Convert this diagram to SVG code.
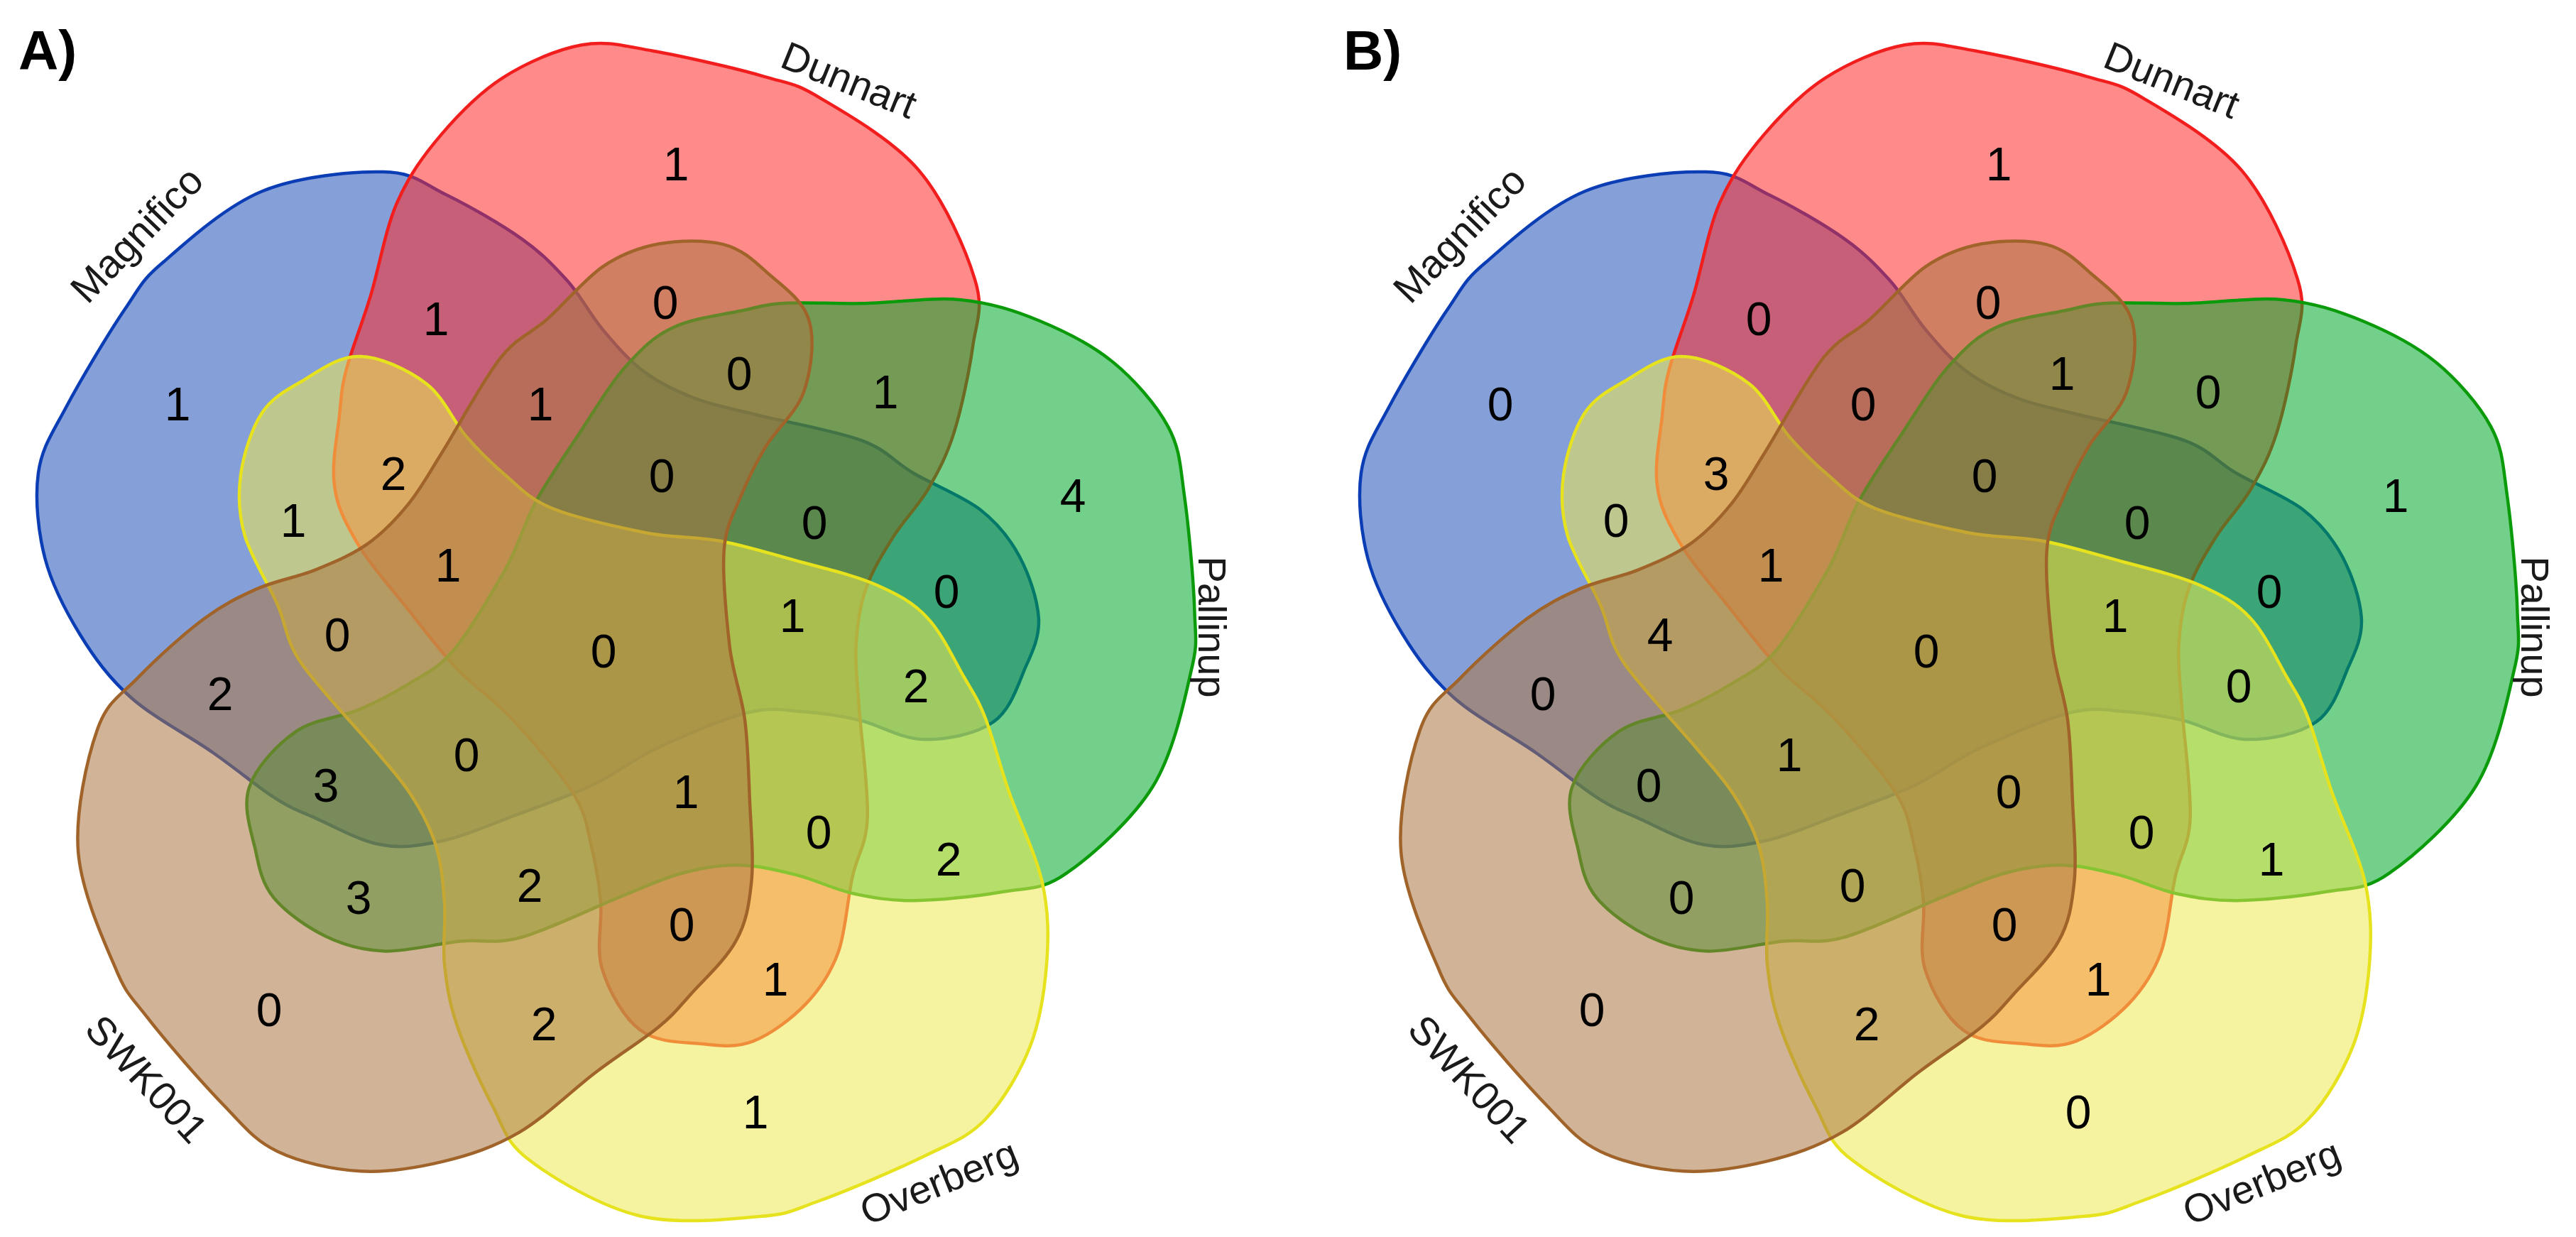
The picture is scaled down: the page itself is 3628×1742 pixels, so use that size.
<svg xmlns="http://www.w3.org/2000/svg" width="3628" height="1742" viewBox="0 0 3628 1742">
<style>
.s{stroke-width:4.5;fill-opacity:0.55;stroke-linejoin:round}
.blue{fill:#2150B8;stroke:#0B3DB5}
.red{fill:#FF2A2A;stroke:#F21D1D}
.green{fill:#00A92A;stroke:#0A9A0A}
.yellow{fill:#EDE952;stroke:#E6E21E}
.brown{fill:#AB7642;stroke:#A0642A}
text{font-family:"Liberation Sans",Arial,Helvetica,sans-serif}
.num{font-size:66px;text-anchor:middle;fill:#000}
.lbl{font-size:56px;text-anchor:middle;fill:#1a1a1a}
.pl{font-size:78px;font-weight:bold;fill:#000}
</style>
<defs>
<path id="set" d="M610,331 C619,372 619,408 616,446 C613,484 607,525 593,561 C579,597 555,638 530,664 C505,690 483,697 444,716 C405,735 335,765 296,779 C257,793 254,798 212,801 C170,805 96,813 42,800 C-12,787 -78,748 -112,722 C-147,696 -148,676 -165,644 C-182,612 -204,563 -215,530 C-226,497 -229,474 -232,446 C-235,418 -230,388 -232,360 C-234,332 -236,305 -244,279 C-252,253 -265,229 -280,206 C-295,183 -308,170 -334,139 C-360,108 -413,53 -435,20 C-457,-13 -454,-31 -467,-60 C-480,-90 -504,-127 -513,-157 C-522,-188 -523,-214 -519,-243 C-515,-272 -504,-307 -490,-329 C-476,-351 -456,-362 -433,-375 C-410,-389 -381,-411 -352,-410 C-323,-410 -283,-391 -258,-372 C-233,-353 -220,-319 -201,-297 C-182,-275 -163,-257 -143,-240 C-123,-223 -112,-209 -80,-196 C-48,-183 11,-170 50,-162 C90,-154 120,-157 157,-150 C194,-143 235,-130 272,-120 C309,-110 348,-101 377,-88 C406,-75 428,-64 448,-42 C469,-20 486,18 500,42 C514,66 520,74 530,100 C540,126 549,162 562,200 C575,239 601,290 610,331 Z"/>
</defs>
<rect width="3628" height="1742" fill="#fff"/>

<g id="panelA">
<text class="pl" x="26" y="98">A)</text>
<g id="A-Magnifico"><use href="#set" class="s blue" transform="translate(873,892) rotate(144)"/><text class="lbl" transform="translate(192,330) rotate(-46)" y="20">Magnifico</text></g>
<g id="A-Dunnart"><use href="#set" class="s red" transform="translate(858,912) rotate(216)"/><text class="lbl" transform="translate(1196,112) rotate(22)" y="20">Dunnart</text></g>
<g id="A-Pallinup"><use href="#set" class="s green" transform="translate(850,900) rotate(288)"/><text class="lbl" transform="translate(1708,883) rotate(90)" y="20">Pallinup</text></g>
<g id="A-Overberg"><use href="#set" class="s yellow" transform="translate(858,912)"/><text class="lbl" transform="translate(1322,1664) rotate(-22)" y="20">Overberg</text></g>
<g id="A-SWK001"><use href="#set" class="s brown" transform="translate(858,912) rotate(72)"/><text class="lbl" transform="translate(207,1519) rotate(47)" y="20">SWK001</text></g>
<g id="A-counts" class="num">
<text x="614" y="472">1</text>
<text x="250" y="592">1</text>
<text x="761" y="592">1</text>
<text x="554" y="690">2</text>
<text x="413" y="756">1</text>
<text x="631" y="819">1</text>
<text x="952" y="254">1</text>
<text x="937" y="449">0</text>
<text x="1041" y="549">0</text>
<text x="1247" y="575">1</text>
<text x="1511" y="721">4</text>
<text x="932" y="693">0</text>
<text x="1147" y="759">0</text>
<text x="1333" y="856">0</text>
<text x="1116" y="890">1</text>
<text x="475" y="917">0</text>
<text x="850" y="940">0</text>
<text x="310" y="1000">2</text>
<text x="657" y="1086">0</text>
<text x="459" y="1129">3</text>
<text x="505" y="1287">3</text>
<text x="746" y="1270">2</text>
<text x="379" y="1445">0</text>
<text x="766" y="1465">2</text>
<text x="1290" y="989">2</text>
<text x="966" y="1138">1</text>
<text x="1153" y="1195">0</text>
<text x="1336" y="1233">2</text>
<text x="960" y="1325">0</text>
<text x="1092" y="1402">1</text>
<text x="1064" y="1589">1</text>
</g>
</g>

<g id="panelB" transform="translate(1863,0)">
<text class="pl" x="29" y="98">B)</text>
<g id="B-Magnifico"><use href="#set" class="s blue" transform="translate(873,892) rotate(144)"/><text class="lbl" transform="translate(192,330) rotate(-46)" y="20">Magnifico</text></g>
<g id="B-Dunnart"><use href="#set" class="s red" transform="translate(858,912) rotate(216)"/><text class="lbl" transform="translate(1196,112) rotate(22)" y="20">Dunnart</text></g>
<g id="B-Pallinup"><use href="#set" class="s green" transform="translate(850,900) rotate(288)"/><text class="lbl" transform="translate(1708,883) rotate(90)" y="20">Pallinup</text></g>
<g id="B-Overberg"><use href="#set" class="s yellow" transform="translate(858,912)"/><text class="lbl" transform="translate(1322,1664) rotate(-22)" y="20">Overberg</text></g>
<g id="B-SWK001"><use href="#set" class="s brown" transform="translate(858,912) rotate(72)"/><text class="lbl" transform="translate(207,1519) rotate(47)" y="20">SWK001</text></g>
<g id="B-counts" class="num">
<text x="614" y="472">0</text>
<text x="250" y="592">0</text>
<text x="761" y="592">0</text>
<text x="554" y="690">3</text>
<text x="413" y="756">0</text>
<text x="631" y="819">1</text>
<text x="952" y="254">1</text>
<text x="937" y="449">0</text>
<text x="1041" y="549">1</text>
<text x="1247" y="575">0</text>
<text x="1511" y="721">1</text>
<text x="932" y="693">0</text>
<text x="1147" y="759">0</text>
<text x="1333" y="856">0</text>
<text x="1116" y="890">1</text>
<text x="475" y="917">4</text>
<text x="850" y="940">0</text>
<text x="310" y="1000">0</text>
<text x="657" y="1086">1</text>
<text x="459" y="1129">0</text>
<text x="505" y="1287">0</text>
<text x="746" y="1270">0</text>
<text x="379" y="1445">0</text>
<text x="766" y="1465">2</text>
<text x="1290" y="989">0</text>
<text x="966" y="1138">0</text>
<text x="1153" y="1195">0</text>
<text x="1336" y="1233">1</text>
<text x="960" y="1325">0</text>
<text x="1092" y="1402">1</text>
<text x="1064" y="1589">0</text>
</g>
</g>
<g id="connectors"/>
</svg>
